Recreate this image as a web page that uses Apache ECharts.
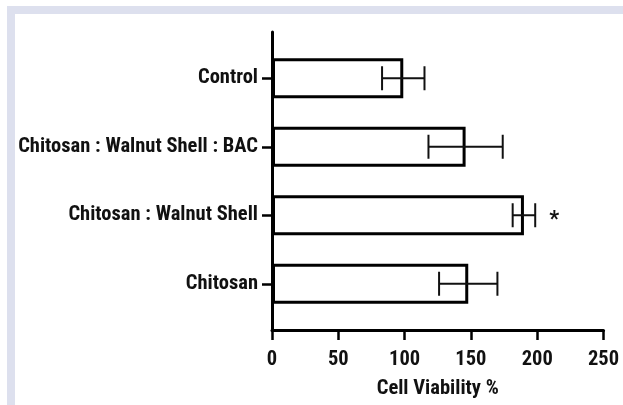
<!DOCTYPE html>
<html>
<head>
<meta charset="utf-8">
<script src="https://cdn.jsdelivr.net/npm/echarts@6/dist/echarts.min.js"></script>
<style>
  html, body { margin: 0; padding: 0; background: #ffffff; }
  #frame { position: absolute; left: 7px; top: 6px; width: 616px; height: 399px;
           border-top: 8px solid #dde0ee; border-left: 8px solid #dde0ee; box-sizing: border-box; }
  #chart { position: absolute; left: 0; top: 0; width: 623px; height: 405px; }
</style>
</head>
<body>
<div id="frame"></div>
<div id="chart"></div>
<script>
// Categories listed bottom to top
const categories = ['Chitosan', 'Chitosan : Walnut Shell', 'Chitosan : Walnut Shell : BAC', 'Control'];
const means = [148, 190, 146, 99];
const errors = [22, 8.5, 28, 16];
const significance = ['', '*', '', ''];
const xMin = 0, xMax = 250, xInterval = 50;
const axisName = 'Cell Viability %';

const FONT = '"Roboto Condensed", "Liberation Sans Narrow", "Liberation Sans", sans-serif';
const FS = 20.5;

const chart = echarts.init(document.getElementById('chart'), null, { renderer: 'canvas' });
const errData = categories.map((c, i) => [i, means[i], errors[i], significance[i]]);

chart.setOption({
  backgroundColor: 'transparent',
  animation: false,
  grid: [
    { left: 272, right: 19.5, top: 44, bottom: 87, outerBoundsMode: 'none', containLabel: false },
    { left: 272, right: 19.5, top: 32, bottom: 75, outerBoundsMode: 'none', containLabel: false }
  ],
  xAxis: [
    { gridIndex: 0, type: 'value', min: xMin, max: xMax, interval: xInterval, show: false },
    { gridIndex: 1, type: 'value', min: xMin, max: xMax, interval: xInterval,
      axisLine: { show: true, lineStyle: { color: '#000', width: 3 } },
      axisTick: { show: true, length: 10, lineStyle: { color: '#000', width: 2.5 } },
      axisLabel: { color: '#111', fontFamily: FONT, fontWeight: 'bold', fontSize: FS, margin: 19 },
      splitLine: { show: false },
      name: axisName, nameLocation: 'middle', nameGap: 48,
      nameTextStyle: { color: '#111', fontFamily: FONT, fontWeight: 'bold', fontSize: FS }
    }
  ],
  yAxis: [
    { gridIndex: 0, type: 'category', data: categories,
      axisLine: { show: false },
      axisTick: { show: true, alignWithLabel: true, length: 10, lineStyle: { color: '#000', width: 2.5 } },
      axisLabel: { color: '#111', fontFamily: FONT, fontWeight: 'bold', fontSize: FS, margin: 14 },
      splitLine: { show: false }
    },
    { gridIndex: 1, type: 'value', min: 0, max: 1,
      axisLine: { show: true, onZero: false, lineStyle: { color: '#000', width: 3 } },
      axisTick: { show: false }, axisLabel: { show: false }, splitLine: { show: false }
    }
  ],
  series: [
    { type: 'bar', xAxisIndex: 0, yAxisIndex: 0, data: means, barWidth: 40,
      itemStyle: { color: '#ffffff', borderColor: '#000', borderWidth: 3 } },
    { type: 'custom', xAxisIndex: 0, yAxisIndex: 0, data: errData,
      encode: { x: [1], y: 0 },
      z: 5,
      renderItem: function (params, api) {
        const c = api.value(0), m = api.value(1), e = api.value(2);
        const sig = significance[c];
        const lo = api.coord([m - e, c]);
        const hi = api.coord([m + e, c]);
        const h = 12;
        const st = { stroke: '#111', lineWidth: 2 };
        const children = [
          { type: 'line', shape: { x1: lo[0], y1: lo[1], x2: hi[0], y2: hi[1] }, style: st },
          { type: 'line', shape: { x1: lo[0], y1: lo[1] - h, x2: lo[0], y2: lo[1] + h }, style: st },
          { type: 'line', shape: { x1: hi[0], y1: hi[1] - h, x2: hi[0], y2: hi[1] + h }, style: st }
        ];
        if (sig) {
          children.push({ type: 'text', style: { text: sig, x: hi[0] + 19, y: hi[1] + 5,
            textAlign: 'center', textVerticalAlign: 'middle',
            font: 'bold 22px ' + FONT, fill: '#111' } });
        }
        return { type: 'group', children: children };
      }
    }
  ]
});
</script>
</body>
</html>
